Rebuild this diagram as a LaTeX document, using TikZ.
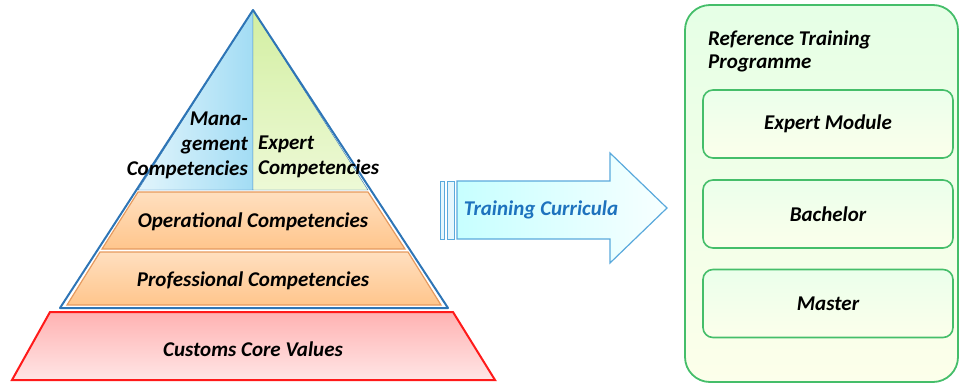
\documentclass[tikz,border=0pt]{standalone}
\usepackage{fontspec}
\setmainfont{Carlito}
\usepackage{xcolor}
\usepackage{tikz}
\usetikzlibrary{positioning}

\definecolor{pyrblue}{HTML}{2E75B6}
\definecolor{mgmtlight}{HTML}{E2F5FC}
\definecolor{mgmtdark}{HTML}{A2DCF4}
\definecolor{explight}{HTML}{EDF9D6}
\definecolor{expdark}{HTML}{D3EFA2}
\definecolor{bandline}{HTML}{E69A5E}
\definecolor{corered}{HTML}{FF1A1A}
\definecolor{arrowline}{HTML}{5AA9DC}
\definecolor{arrowtext}{HTML}{1E73BE}
\definecolor{boxgreen}{HTML}{45BE6A}

\tikzset{
    lbl/.style={font=\fontsize{21}{25}\selectfont\bfseries\itshape, inner sep=0pt},
    band/.style={draw=bandline, line width=1.2pt, top color=orange!25!white, bottom color=orange!45!white},
    modbox/.style={draw=boxgreen, line width=1.6pt, rounded corners=10pt,
        top color=green!8!white, bottom color=green!16!yellow!8!white,
        minimum width=250pt, minimum height=68pt, lbl}
}

\begin{document}
\begin{tikzpicture}[x=1pt, y=-1pt]
        \useasboundingbox (0,0) rectangle (959,383);
        % pyramid
        \coordinate (A0) at (253,10);
        \coordinate (A1) at (60,308);
        \coordinate (A2) at (448,308);
        \coordinate (M1) at (138,190);
        \coordinate (M2) at (253,190);
        \coordinate (M3) at (368,190);
        \draw[pyrblue, thin, left color=mgmtlight, right color=mgmtdark] (A0) -- (M1) -- (M2) -- cycle;
        \draw[pyrblue, thin, top color=expdark, bottom color=explight] (A0) -- (M2) -- (M3) -- cycle;
        \draw[band] (138,192) -- (368,192) -- (405,249) -- (102,249) -- cycle;
        \draw[band] (100,252) -- (408,252) -- (441,305) -- (67,305) -- cycle;
        \draw[pyrblue, line width=2pt, line join=round] (A0) -- (A1) -- (A2) -- cycle;
        \draw[corered, line width=2pt, top color=red!30!white, bottom color=red!10!white]
            (50,312) -- (453,312) -- (495,380) -- (12,380) -- cycle;
        \node[lbl, align=right, anchor=east] (mgmt) at (248,145) {Mana-\\gement\\Competencies};
        \node[lbl, align=left, anchor=west] (expert) at (258,157) {Expert\\Competencies};
        \node[lbl] (oper) at (253,222) {Operational Competencies};
        \node[lbl] (prof) at (253,281) {Professional Competencies};
        \node[lbl] (core) at (253,349) {Customs Core Values};
        % arrow
        \draw[arrowline, line width=1.2pt, left color=cyan!22!white, right color=cyan!3!white]
            (457,181) -- (610,181) -- (610,153) -- (667,208) -- (610,263) -- (610,239) -- (457,239) -- cycle;
        \draw[arrowline, line width=1pt, fill=cyan!10!white] (440,181) rectangle (444,239);
        \draw[arrowline, line width=1pt, fill=cyan!10!white] (447,181) rectangle (454,239);
        \node[lbl, text=arrowtext] (curr) at (541,210) {Training Curricula};
        % programme
        \draw[boxgreen, line width=1.8pt, rounded corners=25pt, top color=green!10!white, bottom color=green!12!yellow!8!white]
            (685,5) rectangle (958,382);
        \node[lbl, align=left, anchor=north west, font=\fontsize{21}{23}\selectfont\bfseries\itshape] (prog) at (708,31) {Reference Training\\Programme};
        \node[modbox] (expmod) at (828,124) {Expert Module};
        \node[modbox] (bach) at (828,214) {Bachelor};
        \node[modbox] (mast) at (828,303.5) {Master};
    \end{tikzpicture}
\end{document}
